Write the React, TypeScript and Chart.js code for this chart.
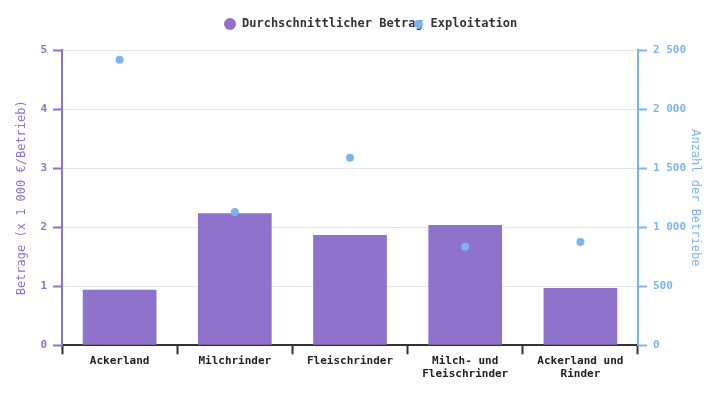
import React, { useEffect, useRef } from 'react';
import { Chart, registerables } from 'chart.js';

Chart.register(...registerables);

const categories: (string | string[])[] = [
  'Ackerland',
  'Milchrinder',
  'Fleischrinder',
  ['Milch- und', 'Fleischrinder'],
  ['Ackerland und', 'Rinder'],
];
const betragValues = [0.94, 2.24, 1.87, 2.04, 0.97];
const betriebeValues = [2420, 1130, 1590, 835, 875];
const betragLabel = 'Durchschnittlicher Betrag';
const betriebeLabel = 'Exploitation';
const leftTitle = 'Betrage (x 1 000 €/Betrieb)';
const rightTitle = 'Anzahl der Betriebe';

const PURPLE = '#8f72cc';
const BLUE = '#7cb5ec';
const FONT = "'DejaVu Sans Mono', monospace";

function makeDot(color: string, size: number): HTMLCanvasElement {
  const c = document.createElement('canvas');
  c.width = size;
  c.height = size;
  const g = c.getContext('2d');
  if (g) {
    g.fillStyle = color;
    g.beginPath();
    g.arc(size / 2, size / 2, size / 2, 0, Math.PI * 2);
    g.fill();
  }
  return c;
}

export default function App() {
  const ref = useRef<HTMLCanvasElement | null>(null);

  useEffect(() => {
    if (!ref.current) return;
    Chart.defaults.font.family = FONT;
    const smallDot = makeDot(BLUE, 9);
    const baseGenerate = (Chart.defaults.plugins.legend.labels as any).generateLabels;
    const chart = new Chart(ref.current, {
      type: 'bar',
      data: {
        labels: categories as any,
        datasets: [
          {
            type: 'bar',
            label: betragLabel,
            data: betragValues,
            backgroundColor: PURPLE,
            borderWidth: 0,
            pointStyle: 'circle',
            barPercentage: 0.8,
            categoryPercentage: 0.8,
            yAxisID: 'y',
            order: 2,
          } as any,
          {
            type: 'line',
            label: betriebeLabel,
            data: betriebeValues,
            showLine: false,
            backgroundColor: BLUE,
            borderColor: BLUE,
            borderWidth: 0,
            pointBackgroundColor: BLUE,
            pointBorderWidth: 0,
            pointRadius: 4,
            yAxisID: 'y1',
            order: 1,
          } as any,
        ],
      },
      options: {
        animation: false,
        responsive: true,
        maintainAspectRatio: false,
        layout: { padding: { top: 16, left: 16.3, right: 0, bottom: 19.3 } },
        plugins: {
          tooltip: { enabled: false },
          title: {
            display: true,
            text: '',
            weight: 500,
            padding: 0,
            font: { size: 10, lineHeight: '10.3px' },
          } as any,
          legend: {
            display: true,
            position: 'top',
            title: {
              display: true,
              text: '',
              padding: 0,
              font: { size: 10, lineHeight: '12px' },
            },
            labels: {
              usePointStyle: true,
              boxWidth: 12,
              boxHeight: 8.5,
              padding: -10,
              color: '#333333',
              font: { family: FONT, size: 12, weight: 'bold' },
              sort: (a: any, b: any) => a.datasetIndex - b.datasetIndex,
              generateLabels: (c: any) => {
                const items = baseGenerate(c);
                items.forEach((it: any) => {
                  if (it.datasetIndex === 1) {
                    it.pointStyle = smallDot;
                  } else {
                    it.pointStyle = 'circle';
                  }
                });
                return items;
              },
            },
          },
        },
        scales: {
          x: {
            offset: true,
            grid: {
              display: true,
              drawOnChartArea: false,
              drawTicks: true,
              tickLength: 9,
              tickWidth: 2,
              tickColor: '#333333',
              offset: true,
            },
            border: { display: true, color: '#333333', width: 2 },
            ticks: {
              color: '#222222',
              padding: 0,
              maxRotation: 0,
              autoSkip: false,
              font: { family: FONT, size: 11, weight: 'bold' },
            },
          },
          y: {
            position: 'left',
            min: 0,
            max: 5,
            ticks: {
              stepSize: 1,
              color: PURPLE,
              padding: 6,
              font: { family: FONT, size: 11, weight: 'bold' },
            },
            grid: {
              color: '#e6e6e6',
              lineWidth: 1,
              tickLength: 9,
              tickWidth: 2,
              tickColor: PURPLE,
            },
            border: { display: true, color: PURPLE, width: 2 },
            title: {
              display: true,
              text: leftTitle,
              color: PURPLE,
              padding: { top: -1.8, bottom: 5.5 },
              font: { family: FONT, size: 12 },
            },
          },
          y1: {
            position: 'right',
            min: 0,
            max: 2500,
            ticks: {
              stepSize: 500,
              color: BLUE,
              padding: 6,
              font: { family: FONT, size: 11, weight: 'bold' },
              callback: (v: any) => String(v).replace(/\B(?=(\d{3})+(?!\d))/g, ' '),
            },
            grid: {
              drawOnChartArea: false,
              tickLength: 9,
              tickWidth: 2,
              tickColor: BLUE,
            },
            border: { display: true, color: BLUE, width: 2 },
            title: {
              display: true,
              text: rightTitle,
              color: BLUE,
              padding: { top: 22.8, bottom: -4.3 },
              font: { family: FONT, size: 12 },
            },
          },
        },
      } as any,
    });
    return () => chart.destroy();
  }, []);

  return (
    <div style={{ position: 'fixed', left: 0, top: 0, width: 725, height: 400, background: '#ffffff' }}>
      <canvas ref={ref} />
    </div>
  );
}
